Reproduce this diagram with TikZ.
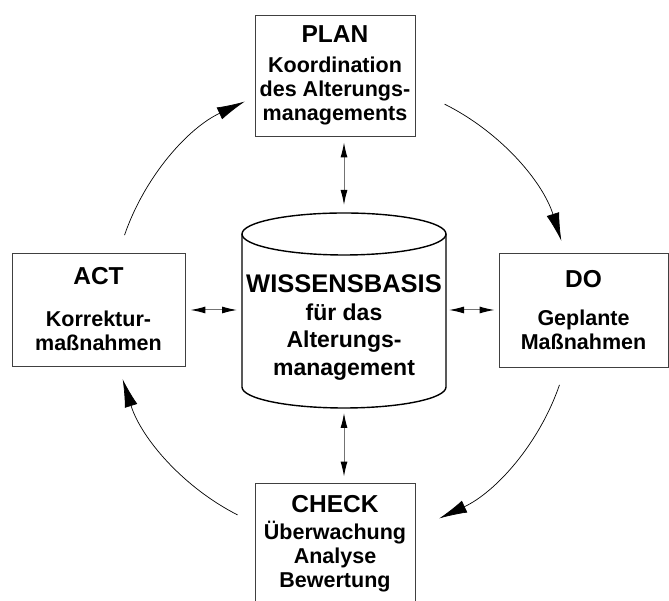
\documentclass[tikz,border=0pt]{standalone}
\usepackage{fontspec}
\setmainfont{Liberation Sans}
\usetikzlibrary{arrows.meta, calc}
\newcommand{\headtext}[1]{{\fontsize{24.5}{24}\selectfont #1}}

\begin{document}
\begin{tikzpicture}[
    x=1pt, y=1pt,
    pdca box/.style={draw=black!75, line width=0.9pt, align=center, inner sep=0pt, font=\bfseries\fontsize{21.5}{24}\selectfont},
    kb wall/.style={draw=black, line width=1.4pt},
    kb link/.style={{Latex[length=15pt, width=7pt, color=black]}-{Latex[length=15pt, width=7pt, color=black]}, draw=black!55, line width=1pt},
    pdca arrow/.style={-{Latex[length=28pt, width=13pt]}, line width=0.7pt},
    ]
    \useasboundingbox (0,0) rectangle (669,601);
    \clip (0,0) rectangle (669,601);

    % PDCA boxes
    \node [pdca box, minimum width=160pt, minimum height=121pt] (plan) at (335,525.5)
        {\headtext{PLAN}\\[6pt] Koordination\\ des Alterungs-\\ managements};
    \node [pdca box, minimum width=173pt, minimum height=113pt] (act) at (98.5,291.5)
        {\headtext{ACT}\\[18pt] Korrektur-\\ maßnahmen};
    \node [pdca box, minimum width=169pt, minimum height=114pt] (do) at (583.5,291)
        {\headtext{DO}\\[14pt] Geplante\\ Maßnahmen};
    \node [pdca box, minimum width=160pt, minimum height=121pt] (check) at (335,57.5)
        {\headtext{CHECK}\\[3pt] Überwachung\\ Analyse\\ Bewertung};

    % knowledge base cylinder
    \coordinate (kbtop) at (344,367);
    \coordinate (kbbot) at (344,214);
    \coordinate (kb n) at (344,388);
    \coordinate (kb s) at (344,193);
    \coordinate (kb w) at (242,291);
    \coordinate (kb e) at (446,291);
    \draw [kb wall] (kbtop) ellipse [x radius=102, y radius=21];
    \draw [kb wall] ($(kbtop)+(-102,0)$) -- ($(kbbot)+(-102,0)$)
        arc [start angle=180, end angle=360, x radius=102, y radius=21] -- ($(kbtop)+(102,0)$);
    \node [align=center, font=\bfseries\fontsize{23}{27.7}\selectfont] (kb) at (344,273.5)
        {{\fontsize{25.5}{27.7}\selectfont WISSENSBASIS}\\ für das\\ Alterungs-\\ management};

    % links to the knowledge base
    \draw [kb link, shorten <=6pt, shorten >=8pt] (plan.south -| kb n) -- (kb n);
    \draw [kb link, shorten <=5pt, shorten >=6pt] (kb s) -- (kb s |- check.north);
    \draw [kb link, shorten <=5pt, shorten >=5pt] (act.east |- kb w) -- (kb w);
    \draw [kb link, shorten <=3pt, shorten >=4pt] (kb e) -- (kb e -| do.west);

    % cycle
    \coordinate (hub) at (342,291);
    \foreach \a/\b in {63.5/17.5, -19/-65, -117/-162.5, 161/115}
    \draw [pdca arrow] ([shift={(\a:230)}]hub) arc [start angle=\a, end angle=\b, radius=230];
\end{tikzpicture}
\end{document}
